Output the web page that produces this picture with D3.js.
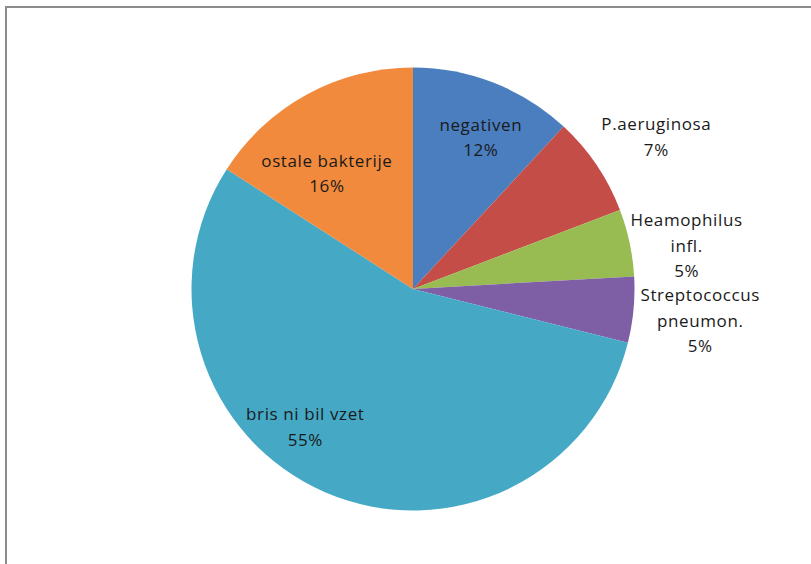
<!DOCTYPE html>
<html>
<head>
<meta charset="utf-8">
<script src="https://cdn.jsdelivr.net/npm/d3@7"></script>
<style>
  html, body { margin: 0; padding: 0; background: #fff; }
  svg { display: block; }
</style>
</head>
<body>
<svg id="chart" width="811" height="564"></svg>
<script>
// ---- data ----
const categories = ["negativen", "P.aeruginosa", "Heamophilus infl.", "Streptococcus pneumon.", "bris ni bil vzet", "ostale bakterije"];
const values = [11.9, 7.3, 4.9, 4.8, 55.2, 15.9];
const percentLabels = ["12%", "7%", "5%", "5%", "55%", "16%"];
const labelLines = [["negativen"], ["P.aeruginosa"], ["Heamophilus", "infl."], ["Streptococcus", "pneumon."], ["bris ni bil vzet"], ["ostale bakterije"]];

// ---- styles / layout ----
const colors = ["#4A7EBF", "#C44D47", "#98BB52", "#7E5FA6", "#45A9C6", "#F18A3D"];
// label placement in polar terms: angle offset (deg) from slice mid-angle, and radius (px)
const labelAngleOffset = [2.7, 2, 3.1, 0.9, 14.6, -8.1];
const labelRadius = [166, 287, 277, 289, 175, 144];

const W = 811, H = 564;
const cx = 413, cy = 289, R = 221.5;
const svg = d3.select("#chart");

// chart frame
svg.append("rect")
  .attr("x", 6).attr("y", 7)
  .attr("width", W + 10).attr("height", H + 10)
  .attr("fill", "#fff")
  .attr("stroke", "#8c8c8c")
  .attr("stroke-width", 2);

const g = svg.append("g").attr("transform", `translate(${cx},${cy})`);

const pie = d3.pie().value(d => d).sort(null);
const arcs = pie(values);
const arc = d3.arc().innerRadius(0).outerRadius(R);

g.selectAll("path.slice")
  .data(arcs)
  .join("path")
  .attr("class", "slice")
  .attr("d", arc)
  .attr("fill", (d, i) => colors[i]);

const lineH = 25.5;
const labels = g.selectAll("text.lbl")
  .data(arcs)
  .join("text")
  .attr("class", "lbl")
  .attr("text-anchor", "middle")
  .attr("font-family", "'Open Sans', 'DejaVu Sans', sans-serif")
  .attr("font-size", 17)
  .attr("letter-spacing", 0.6)
  .attr("fill", "#1a1a1a")
  .each(function(d, i) {
    const mid = (d.startAngle + d.endAngle) / 2 + labelAngleOffset[i] * Math.PI / 180;
    const r = labelRadius[i];
    const x = r * Math.sin(mid);
    const y = -r * Math.cos(mid);
    const lines = labelLines[i].concat([percentLabels[i]]);
    const n = lines.length;
    const t = d3.select(this);
    lines.forEach((ln, k) => {
      t.append("tspan")
        .attr("x", x)
        .attr("y", y + (k - (n - 1) / 2) * lineH)
        .attr("dy", "0.35em")
        .text(ln);
    });
  });
</script>
</body>
</html>
